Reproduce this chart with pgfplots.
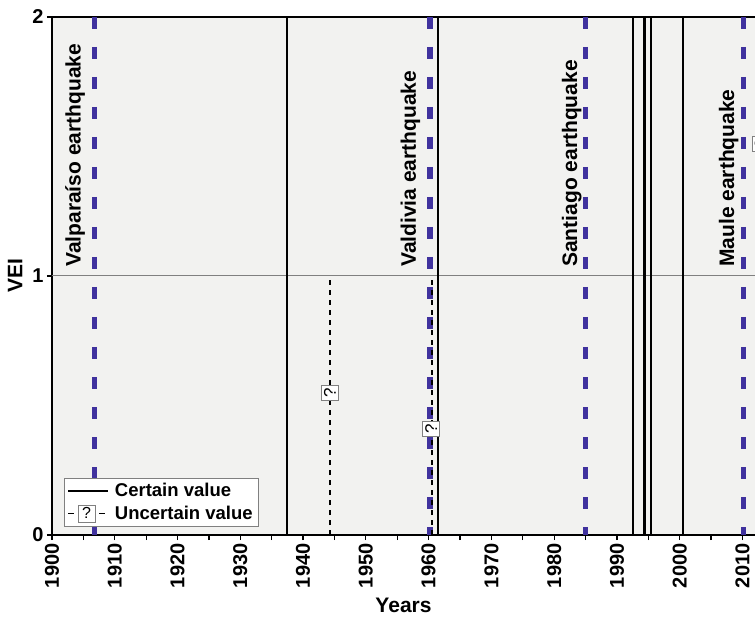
\documentclass[border=0pt]{standalone}
\usepackage{pgfplots}
\pgfplotsset{compat=1.18}
\usepackage{fontspec}
\setmainfont{Liberation Sans}
\definecolor{bgc}{RGB}{242,242,240}
\definecolor{quake}{RGB}{64,50,158}
\definecolor{midgray}{RGB}{128,128,128}

\begin{document}
\begin{tikzpicture}
\begin{axis}[
    scale only axis,
    width=703pt, height=518pt,
    xmin=1900, xmax=2012, ymin=0, ymax=2,
    axis x line*=box, axis y line*=left,
    xtick pos=bottom,
    axis line style={line width=1.6pt},
    axis background/.style={fill=bgc},
    xtick={1900,1910,...,2010},
    minor xtick={1905,1915,...,2005},
    ytick={0,1,2},
    tick align=outside,
    major tick length=5pt, minor tick length=5pt,
    every tick/.style={black, line width=1.2pt},
    ticklabel style={font=\fontsize{20}{22}\selectfont\bfseries},
    /pgf/number format/assume math mode=true,
    /pgf/number format/1000 sep={},
    x tick label style={rotate=90, anchor=east},
    xlabel={Years}, ylabel={VEI},
    label style={font=\fontsize{21}{23}\selectfont\bfseries},
    xlabel style={yshift=-3pt},
    ylabel style={yshift=3pt},
    legend style={at={(0.017,0.017)}, anchor=south west,
      draw=midgray, fill=white,
      font=\fontsize{18.5}{20}\selectfont\bfseries, inner sep=3pt,
      row sep=4pt,
      /tikz/every odd column/.append style={column sep=4pt}},
    legend cell align=left,
]
\addlegendimage{legend image code/.code={
    \draw[black, line width=1.8pt] (0pt,0pt) -- (40pt,0pt);}}
\addlegendentry{Certain value}
\addlegendimage{legend image code/.code={
    \draw[black, line width=1.8pt] (0pt,0pt) -- (6pt,0pt);
    \draw[midgray, fill=white, line width=0.7pt] (10pt,-8.5pt) rectangle (27pt,8.5pt);
    \node[anchor=center, inner sep=0pt, text=black,
      font=\fontsize{16}{16}\selectfont] at (18.5pt,0pt) {?};
    \draw[black, line width=1.8pt] (31pt,0pt) -- (37pt,0pt);
    \path (40pt,0pt);}}
\addlegendentry{Uncertain value}

% VEI = 1 reference line
\addplot[midgray, line width=1pt, forget plot] coordinates {(1900,1) (2012,1)};

% earthquakes
\addplot[quake, line width=5.5pt, dash pattern=on 12pt off 18pt, forget plot]
    coordinates {(1906.8,2) (1906.8,0)};
\addplot[quake, line width=5.5pt, dash pattern=on 12pt off 18pt, forget plot]
    coordinates {(1960.2,2) (1960.2,0)};
\addplot[quake, line width=5.5pt, dash pattern=on 12pt off 18pt, forget plot]
    coordinates {(1985.0,2) (1985.0,0)};
\addplot[quake, line width=5.5pt, dash pattern=on 12pt off 18pt, forget plot]
    coordinates {(2010.2,2) (2010.2,0)};

% eruptions, certain VEI
\addplot[ycomb, black, line width=2.2pt, mark=none, forget plot]
    coordinates {(1937.5,2) (1961.5,2) (1992.5,2) (1994.4,2) (1995.4,2) (2000.5,2)};
% eruptions, uncertain VEI
\addplot[ycomb, black, line width=1.8pt, dash pattern=on 5pt off 5pt, mark=none, forget plot]
    coordinates {(1944.3,1) (1960.5,1)};

\node[draw=midgray, fill=white, rotate=90, inner sep=2.5pt,
  font=\fontsize{17}{17}\selectfont] at (axis cs:1944.3,0.55) {?};
\node[draw=midgray, fill=white, rotate=90, inner sep=2.5pt,
  font=\fontsize{17}{17}\selectfont] at (axis cs:1960.4,0.41) {?};
\node[draw=midgray, fill=white, rotate=90, inner sep=2.5pt,
  font=\fontsize{17}{17}\selectfont] at (axis cs:2012.9,1.51) {?};

\node[rotate=90, anchor=west, inner sep=0pt, font=\fontsize{21}{23}\selectfont\bfseries]
  at (axis cs:1903.7,1.035) {Valparaíso earthquake};
\node[rotate=90, anchor=west, inner sep=0pt, font=\fontsize{21}{23}\selectfont\bfseries]
  at (axis cs:1957.1,1.035) {Valdivia earthquake};
\node[rotate=90, anchor=west, inner sep=0pt, font=\fontsize{21}{23}\selectfont\bfseries]
  at (axis cs:1982.8,1.035) {Santiago earthquake};
\node[rotate=90, anchor=west, inner sep=0pt, font=\fontsize{21}{23}\selectfont\bfseries]
  at (axis cs:2007.8,1.035) {Maule earthquake};

\coordinate (O) at (rel axis cs:0,0);
\end{axis}
\pgfresetboundingbox
\path ([xshift=-52pt,yshift=-86pt]O) rectangle ++(755pt,621pt);
\end{tikzpicture}
\end{document}
